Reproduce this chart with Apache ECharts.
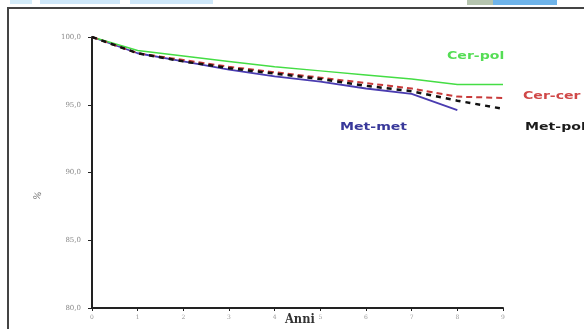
<!DOCTYPE html>
<html>
<head>
<meta charset="utf-8">
<script src="https://cdn.jsdelivr.net/npm/echarts@6/dist/echarts.min.js"></script>
<style>
  html, body { margin: 0; padding: 0; background: #fff; }
  #chart { width: 584px; height: 329px; }
</style>
</head>
<body>
<div id="chart"></div>
<script>
// anni (x) e percentuali di sopravvivenza
const anni = [0, 1, 2, 3, 4, 5, 6, 7, 8, 9];
const cerPol = [100, 99.0, 98.6, 98.2, 97.8, 97.5, 97.2, 96.9, 96.5, 96.5];
const cerCer = [100, 98.8, 98.3, 97.8, 97.4, 97.0, 96.6, 96.2, 95.6, 95.5];
const metPol = [100, 98.8, 98.2, 97.7, 97.3, 96.9, 96.4, 96.0, 95.3, 94.7];
const metMet = [100, 98.8, 98.2, 97.6, 97.1, 96.7, 96.2, 95.8, 94.6];
const yTicks = [80, 85, 90, 95, 100];

const pairs = (vals) => vals.map((v, i) => [anni[i], v]);

const chart = echarts.init(document.getElementById('chart'));

// etichette delle serie accanto alle linee
const labels = [
  { text: 'Cer-pol', color: '#55dd55', x: 447, y: 51 },
  { text: 'Cer-cer', color: '#d04848', x: 523, y: 91 },
  { text: 'Met-met', color: '#38389a', x: 340, y: 122 },
  { text: 'Met-pol', color: '#1a1a1a', x: 525, y: 122 }
];

chart.setOption({
  animation: false,
  backgroundColor: '#fff',
  grid: { left: 92, right: 81, top: 37, bottom: 21 },
  xAxis: {
    type: 'value',
    min: 0,
    max: 9,
    interval: 1,
    axisLine: { lineStyle: { color: '#222', width: 2 } },
    axisTick: { show: true, length: 3, lineStyle: { color: '#222' } },
    axisLabel: { color: '#999', fontSize: 6, fontFamily: 'DejaVu Serif', margin: 6 },
    splitLine: { show: false }
  },
  yAxis: {
    type: 'value',
    min: yTicks[0],
    max: yTicks[yTicks.length - 1],
    interval: 5,
    axisLine: { show: true, lineStyle: { color: '#222', width: 2 } },
    axisTick: { show: true, length: 4, lineStyle: { color: '#222' } },
    axisLabel: {
      color: '#888', fontSize: 7, fontFamily: 'DejaVu Serif', margin: 11,
      formatter: (v) => v.toFixed(1).replace('.', ',')
    },
    splitLine: { show: false }
  },
  series: [
    {
      name: 'Cer-pol', type: 'line', data: pairs(cerPol), showSymbol: false,
      lineStyle: { color: '#44dd44', width: 1.5 }, z: 3
    },
    {
      name: 'Met-met', type: 'line', data: pairs(metMet), showSymbol: false,
      lineStyle: { color: '#4a3cb0', width: 1.8 }, z: 2
    },
    {
      name: 'Cer-cer', type: 'line', data: pairs(cerCer), showSymbol: false,
      lineStyle: { color: '#c83a3a', width: 2, type: [6, 4] }, z: 4
    },
    {
      name: 'Met-pol', type: 'line', data: pairs(metPol), showSymbol: false,
      lineStyle: { color: '#111', width: 2.5, type: [5, 5] }, z: 5
    }
  ],
  graphic: [
    // striscia in alto (residuo dell'immagine)
    { type: 'rect', shape: { x: 10, y: 0, width: 22, height: 4 }, style: { fill: '#d4ecfa' } },
    { type: 'rect', shape: { x: 40, y: 0, width: 80, height: 4 }, style: { fill: '#cfe8fa' } },
    { type: 'rect', shape: { x: 130, y: 0, width: 83, height: 4 }, style: { fill: '#cfe8fa' } },
    { type: 'rect', shape: { x: 467, y: 0, width: 26, height: 5 }, style: { fill: '#b5c4ae' } },
    { type: 'rect', shape: { x: 493, y: 0, width: 64, height: 5 }, style: { fill: '#6fb4ea' } },
    // cornice
    {
      type: 'polyline',
      shape: { points: [[8, 340], [8, 8], [590, 8]] },
      style: { stroke: '#444', lineWidth: 2, fill: null }
    },
    ...labels.map((l) => ({
      type: 'text', x: l.x, y: l.y, scaleX: 1.28,
      style: { text: l.text, fill: l.color, font: 'bold 11px "DejaVu Sans"' }
    })),
    {
      type: 'text', x: 285, y: 314, scaleX: 0.95,
      style: { text: 'Anni', fill: '#333', font: 'bold 12px "DejaVu Serif"' }
    },
    {
      type: 'text', x: 38, y: 196, rotation: Math.PI / 2 - 0.3,
      style: { text: '%', fill: '#666', font: '9px "DejaVu Serif"', align: 'center', verticalAlign: 'middle' }
    }
  ]
});
</script>
</body>
</html>
